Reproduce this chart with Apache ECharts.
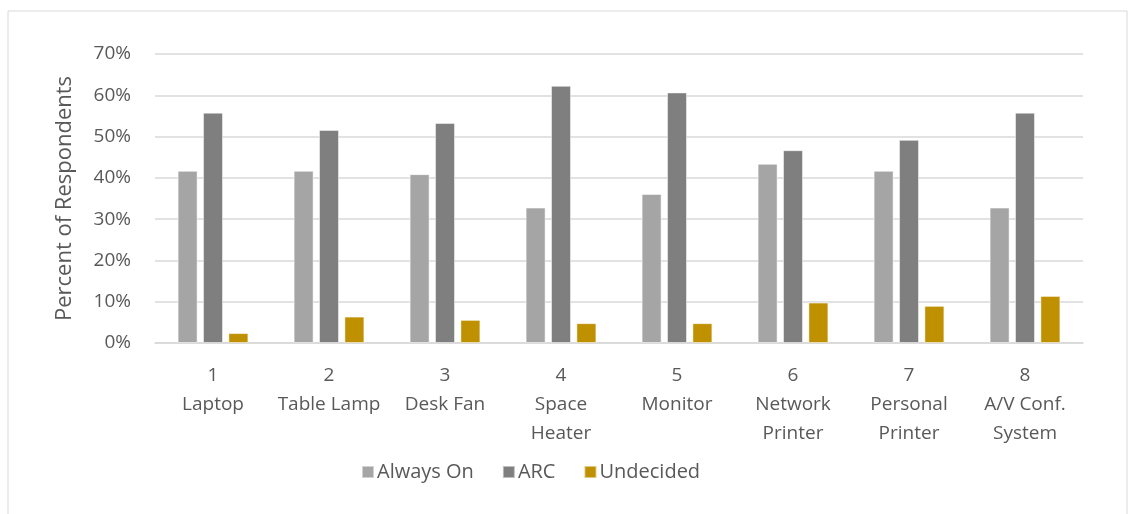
<!DOCTYPE html>
<html>
<head>
<meta charset="utf-8">
<script src="https://cdn.jsdelivr.net/npm/echarts@6/dist/echarts.min.js"></script>
<style>
    html, body { margin: 0; padding: 0; background: #fff; }
    #chart { width: 1130px; height: 514px; }
</style>
</head>
<body>
<div id="chart"></div>
<script>
var categories = ['1\nLaptop', '2\nTable Lamp', '3\nDesk Fan', '4\nSpace\nHeater', '5\nMonitor', '6\nNetwork\nPrinter', '7\nPersonal\nPrinter', '8\nA/V Conf.\nSystem'];
var alwaysOn = [41.7, 41.7, 40.9, 32.8, 36.1, 43.4, 41.7, 32.8];
var arc = [55.8, 51.6, 53.3, 62.3, 60.7, 46.7, 49.2, 55.8];
var undecided = [2.4, 6.4, 5.6, 4.8, 4.8, 9.8, 9.0, 11.4];
var yTicks = [0, 10, 20, 30, 40, 50, 60, 70];

var fontName = "'Open Sans', 'Noto Sans', sans-serif";
var textColor = '#595959';

var chart = echarts.init(document.getElementById('chart'));

function barSeries(name, data, color) {
    return {
        name: name,
        type: 'bar',
        data: data,
        barWidth: 20,
        barGap: '27%',
        itemStyle: {color: color, borderColor: 'rgba(255,255,255,0.5)', borderWidth: 1}
    };
}

var option = {
    animation: false,
    textStyle: {fontFamily: fontName},
    graphic: [{
        type: 'rect',
        shape: {x: 8, y: 11, width: 1119, height: 520},
        style: {fill: 'none', stroke: '#D9D9D9', lineWidth: 1}
    }],
    grid: {left: 155, right: 47, top: 54, bottom: 171, containLabel: false},
    legend: {
        data: ['Always On', 'ARC', 'Undecided'],
        bottom: 27,
        left: 356,
        itemWidth: 12,
        itemHeight: 12,
        itemGap: 28,
        icon: 'rect',
        textStyle: {color: textColor, fontSize: 20, fontFamily: fontName, padding: [0, 0, 0, -2]}
    },
    xAxis: {
        type: 'category',
        data: categories,
        axisLine: {lineStyle: {color: '#D9D9D9', width: 1.5}},
        axisTick: {show: false},
        axisLabel: {
            color: textColor,
            fontSize: 19,
            lineHeight: 29,
            margin: 18,
            interval: 0,
            fontFamily: fontName
        }
    },
    yAxis: {
        type: 'value',
        min: yTicks[0],
        max: yTicks[yTicks.length - 1],
        interval: 10,
        name: 'Percent of Respondents',
        nameLocation: 'middle',
        nameGap: 79,
        nameTextStyle: {color: textColor, fontSize: 22, fontFamily: fontName},
        axisLine: {show: false},
        axisTick: {show: false},
        axisLabel: {
            color: textColor,
            fontSize: 19,
            margin: 24,
            formatter: '{value}%',
            fontFamily: fontName
        },
        splitLine: {lineStyle: {color: '#D9D9D9', width: 1.5}}
    },
    series: [
        barSeries('Always On', alwaysOn, '#A5A5A5'),
        barSeries('ARC', arc, '#7F7F7F'),
        barSeries('Undecided', undecided, '#BF9000')
    ]
};

chart.setOption(option);
</script>
</body>
</html>
